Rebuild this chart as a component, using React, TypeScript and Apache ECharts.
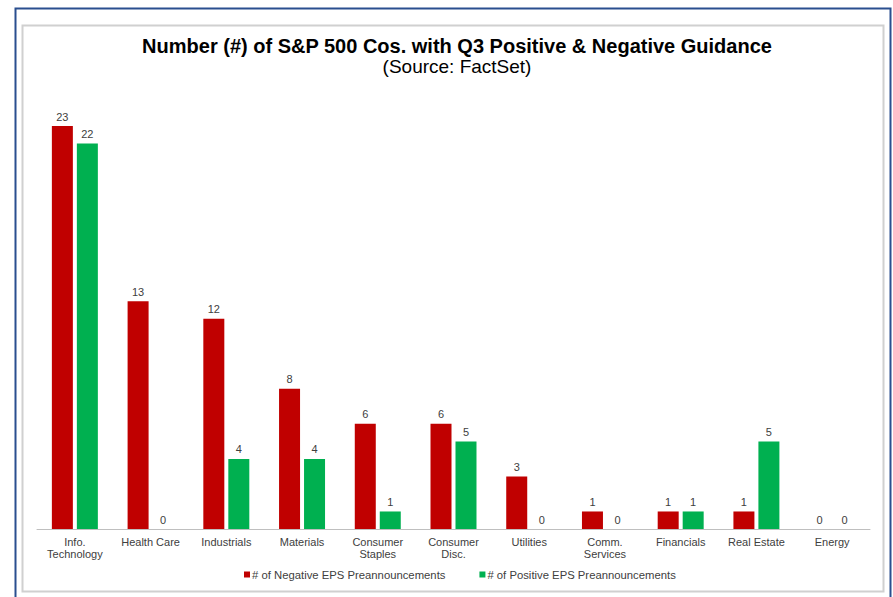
import React, { useEffect, useRef } from "react";
import * as echarts from "echarts";

const categories = [
  "Info.\nTechnology",
  "Health Care",
  "Industrials",
  "Materials",
  "Consumer\nStaples",
  "Consumer\nDisc.",
  "Utilities",
  "Comm.\nServices",
  "Financials",
  "Real Estate",
  "Energy",
];
const negativeEPS = [23, 13, 12, 8, 6, 6, 3, 1, 1, 1, 0];
const positiveEPS = [22, 0, 4, 4, 1, 5, 0, 0, 1, 5, 0];
const seriesNames = ["# of Negative EPS Preannouncements", "# of Positive EPS Preannouncements"];

const FONT = "'Liberation Sans', Arial, sans-serif";

export default function App() {
  const ref = useRef<HTMLDivElement>(null);
  useEffect(() => {
    if (!ref.current) return;
    const chart = echarts.init(ref.current, null, { renderer: "svg" });
    const label = {
      show: true,
      position: "top",
      distance: 4,
      fontSize: 11,
      fontFamily: FONT,
      color: "#404040",
    };
    chart.setOption({
      animation: false,
      backgroundColor: "#ffffff",
      graphic: [
        {
          type: "rect",
          shape: { x: 15.5, y: 8.5, width: 875, height: 600 },
          style: { fill: "none", stroke: "#2a4f8f", lineWidth: 2 },
          silent: true,
        },
        {
          type: "rect",
          shape: { x: 22.5, y: 25.5, width: 861, height: 566 },
          style: { fill: "none", stroke: "#d0d0d0", lineWidth: 2 },
          silent: true,
        },
      ],
      title: {
        text: "Number (#) of S&P 500 Cos. with Q3 Positive & Negative Guidance",
        subtext: "(Source: FactSet)",
        left: 452,
        textAlign: "center",
        top: 31,
        itemGap: 1,
        textStyle: { fontFamily: FONT, fontSize: 20, fontWeight: "bold", color: "#000000" },
        subtextStyle: { fontFamily: FONT, fontSize: 19, color: "#000000" },
      },
      legend: {
        top: 564,
        left: 239,
        icon: "rect",
        itemWidth: 6,
        itemHeight: 6,
        itemGap: 34,
        textStyle: { fontFamily: FONT, fontSize: 11.3, color: "#404040", padding: [0, 0, 0, -3] },
        data: seriesNames,
      },
      grid: { left: 37, right: 23, top: 126, bottom: 68, containLabel: false },
      xAxis: {
        type: "category",
        data: categories,
        axisTick: { show: false },
        axisLine: { lineStyle: { color: "#bfbfbf", width: 1 } },
        axisLabel: {
          interval: 0,
          fontFamily: FONT,
          fontSize: 11,
          color: "#404040",
          lineHeight: 12,
          margin: 7,
        },
      },
      yAxis: {
        type: "value",
        min: 0,
        max: 23,
        show: false,
        splitLine: { show: false },
      },
      series: [
        {
          name: seriesNames[0],
          type: "bar",
          data: negativeEPS,
          barWidth: 21,
          barGap: "19%",
          itemStyle: { color: "#c00000" },
          label,
        },
        {
          name: seriesNames[1],
          type: "bar",
          data: positiveEPS,
          barWidth: 21,
          itemStyle: { color: "#00b050" },
          label,
        },
      ],
    });
    return () => chart.dispose();
  }, []);
  return (
    <div
      ref={ref}
      style={{ position: "fixed", left: 0, top: 0, width: 893, height: 597 }}
    />
  );
}
